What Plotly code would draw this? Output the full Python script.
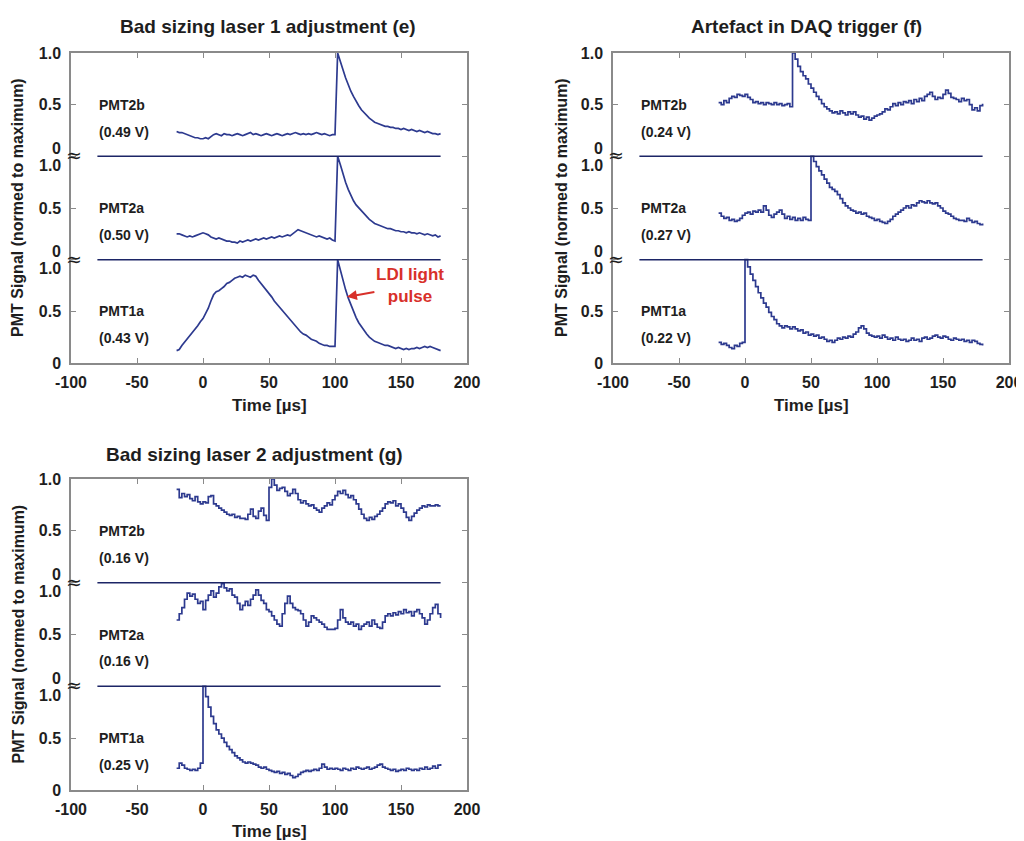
import plotly.graph_objects as go

# page body has an 8 px margin; the figure is sized to fill the rest of the window
W, H = 1016, 833
OFF = 8

# ---------------- data ----------------
TIME = list(range(-20, 181, 2))
X_TICKS = [-100, -50, 0, 50, 100, 150, 200]
CHANNELS = ["PMT1a", "PMT2a", "PMT2b"]   # bottom band -> top band
SEPARATOR_X = [-80, 180]

# Panel (e) Bad sizing laser 1 adjustment
E_PMT2b = [0.24, 0.23, 0.23, 0.22, 0.21, 0.20, 0.19, 0.18, 0.18, 0.17,
           0.17, 0.18, 0.17, 0.19, 0.21, 0.22, 0.21, 0.20, 0.22, 0.21,
           0.21, 0.20, 0.21, 0.22, 0.21, 0.20, 0.21, 0.22, 0.23, 0.21,
           0.22, 0.21, 0.20, 0.21, 0.22, 0.21, 0.20, 0.21, 0.22, 0.21,
           0.20, 0.21, 0.22, 0.21, 0.22, 0.23, 0.22, 0.21, 0.22, 0.21,
           0.22, 0.21, 0.22, 0.23, 0.22, 0.21, 0.22, 0.21, 0.20, 0.21,
           0.21, 1.00, 0.93, 0.84, 0.76, 0.69, 0.63, 0.58, 0.53, 0.49,
           0.45, 0.42, 0.39, 0.37, 0.35, 0.33, 0.32, 0.31, 0.30, 0.29,
           0.29, 0.28, 0.28, 0.27, 0.27, 0.26, 0.27, 0.26, 0.25, 0.26,
           0.25, 0.24, 0.25, 0.24, 0.23, 0.24, 0.23, 0.22, 0.22, 0.21,
           0.22]
E_PMT2a = [0.25, 0.25, 0.24, 0.23, 0.22, 0.23, 0.22, 0.23, 0.24, 0.25,
           0.26, 0.25, 0.24, 0.22, 0.21, 0.20, 0.21, 0.20, 0.19, 0.18,
           0.18, 0.17, 0.17, 0.16, 0.18, 0.17, 0.18, 0.19, 0.18, 0.19,
           0.20, 0.19, 0.20, 0.21, 0.20, 0.21, 0.22, 0.21, 0.22, 0.23,
           0.22, 0.23, 0.24, 0.23, 0.25, 0.27, 0.29, 0.28, 0.27, 0.26,
           0.25, 0.24, 0.23, 0.22, 0.23, 0.22, 0.21, 0.20, 0.21, 0.19,
           0.18, 1.00, 0.92, 0.83, 0.75, 0.68, 0.62, 0.57, 0.53, 0.50,
           0.47, 0.44, 0.41, 0.39, 0.37, 0.35, 0.34, 0.33, 0.32, 0.31,
           0.30, 0.30, 0.29, 0.28, 0.28, 0.27, 0.27, 0.26, 0.27, 0.26,
           0.26, 0.25, 0.26, 0.25, 0.24, 0.25, 0.24, 0.23, 0.24, 0.22,
           0.23]
E_PMT1a = [0.12, 0.13, 0.17, 0.20, 0.23, 0.27, 0.29, 0.33, 0.36, 0.40,
           0.43, 0.48, 0.53, 0.60, 0.66, 0.69, 0.70, 0.72, 0.74, 0.77,
           0.78, 0.80, 0.82, 0.83, 0.84, 0.83, 0.85, 0.84, 0.83, 0.85,
           0.84, 0.80, 0.77, 0.73, 0.70, 0.67, 0.64, 0.60, 0.57, 0.54,
           0.50, 0.47, 0.44, 0.41, 0.38, 0.35, 0.32, 0.30, 0.28, 0.27,
           0.25, 0.23, 0.22, 0.21, 0.19, 0.18, 0.17, 0.17, 0.16, 0.16,
           0.16, 1.00, 0.90, 0.80, 0.71, 0.63, 0.56, 0.50, 0.44, 0.39,
           0.35, 0.31, 0.28, 0.25, 0.23, 0.21, 0.20, 0.19, 0.18, 0.17,
           0.17, 0.16, 0.15, 0.14, 0.15, 0.14, 0.13, 0.14, 0.13, 0.14,
           0.14, 0.15, 0.14, 0.15, 0.16, 0.15, 0.16, 0.15, 0.14, 0.13,
           0.12]

# Panel (f) Artefact in DAQ trigger
F_PMT2b = [0.52, 0.50, 0.54, 0.52, 0.56, 0.58, 0.57, 0.60, 0.59, 0.58,
           0.60, 0.57, 0.55, 0.52, 0.53, 0.51, 0.52, 0.50, 0.52, 0.51,
           0.50, 0.52, 0.50, 0.51, 0.49, 0.50, 0.51, 0.48, 1.00, 0.94,
           0.87, 0.82, 0.78, 0.75, 0.70, 0.66, 0.62, 0.58, 0.55, 0.51,
           0.48, 0.46, 0.44, 0.42, 0.43, 0.41, 0.44, 0.42, 0.40, 0.43,
           0.41, 0.43, 0.40, 0.38, 0.39, 0.36, 0.38, 0.35, 0.37, 0.39,
           0.40, 0.41, 0.43, 0.46, 0.45, 0.48, 0.51, 0.49, 0.52, 0.50,
           0.53, 0.52, 0.54, 0.51, 0.55, 0.53, 0.56, 0.54, 0.58, 0.60,
           0.62, 0.58, 0.55, 0.57, 0.56, 0.60, 0.64, 0.61, 0.57, 0.56,
           0.55, 0.53, 0.56, 0.54, 0.55, 0.50, 0.45, 0.47, 0.44, 0.49,
           0.51]
F_PMT2a = [0.45, 0.42, 0.40, 0.41, 0.38, 0.39, 0.37, 0.38, 0.40, 0.43,
           0.45, 0.46, 0.44, 0.47, 0.46, 0.48, 0.46, 0.52, 0.48, 0.43,
           0.41, 0.44, 0.46, 0.48, 0.44, 0.40, 0.42, 0.39, 0.41, 0.38,
           0.40, 0.38, 0.41, 0.39, 0.38, 1.00, 0.95, 0.90, 0.86, 0.82,
           0.78, 0.74, 0.70, 0.68, 0.66, 0.63, 0.59, 0.55, 0.52, 0.50,
           0.48, 0.47, 0.45, 0.46, 0.44, 0.45, 0.42, 0.41, 0.40, 0.38,
           0.39, 0.37, 0.36, 0.35, 0.37, 0.39, 0.42, 0.44, 0.46, 0.48,
           0.50, 0.52, 0.50, 0.53, 0.52, 0.55, 0.57, 0.56, 0.55, 0.57,
           0.55, 0.54, 0.55, 0.52, 0.50, 0.47, 0.45, 0.44, 0.42, 0.40,
           0.39, 0.38, 0.38, 0.37, 0.40, 0.38, 0.36, 0.37, 0.35, 0.34,
           0.35]
F_PMT1a = [0.20, 0.18, 0.19, 0.17, 0.15, 0.14, 0.17, 0.16, 0.19, 0.20,
           1.00, 0.93, 0.86, 0.80, 0.74, 0.68, 0.63, 0.58, 0.54, 0.49,
           0.45, 0.42, 0.38, 0.36, 0.34, 0.36, 0.35, 0.33, 0.35, 0.33,
           0.31, 0.32, 0.29, 0.30, 0.27, 0.28, 0.26, 0.27, 0.24, 0.25,
           0.23, 0.21, 0.22, 0.20, 0.22, 0.24, 0.23, 0.25, 0.24, 0.26,
           0.25, 0.28, 0.30, 0.34, 0.36, 0.33, 0.29, 0.27, 0.26, 0.25,
           0.26, 0.24, 0.27, 0.25, 0.23, 0.24, 0.22, 0.25, 0.23, 0.22,
           0.23, 0.21, 0.22, 0.24, 0.22, 0.23, 0.21, 0.24, 0.25, 0.23,
           0.24, 0.26, 0.27, 0.25, 0.24, 0.26, 0.25, 0.23, 0.22, 0.24,
           0.23, 0.22, 0.23, 0.21, 0.22, 0.20, 0.22, 0.21, 0.19, 0.18,
           0.17]

# Panel (g) Bad sizing laser 2 adjustment
G_PMT2b = [0.90, 0.82, 0.86, 0.83, 0.85, 0.81, 0.79, 0.83, 0.78, 0.76,
           0.78, 0.77, 0.83, 0.84, 0.76, 0.74, 0.72, 0.70, 0.68, 0.66,
           0.65, 0.66, 0.63, 0.64, 0.62, 0.62, 0.61, 0.66, 0.71, 0.64,
           0.62, 0.69, 0.72, 0.65, 0.60, 0.92, 1.00, 0.94, 0.89, 0.91,
           0.92, 0.88, 0.84, 0.86, 0.90, 0.86, 0.80, 0.77, 0.79, 0.76,
           0.74, 0.75, 0.72, 0.70, 0.68, 0.72, 0.74, 0.77, 0.75, 0.80,
           0.84, 0.88, 0.86, 0.89, 0.85, 0.82, 0.84, 0.80, 0.76, 0.71,
           0.66, 0.62, 0.60, 0.63, 0.61, 0.64, 0.66, 0.69, 0.72, 0.76,
           0.78, 0.77, 0.79, 0.74, 0.76, 0.72, 0.68, 0.63, 0.60, 0.64,
           0.67, 0.70, 0.72, 0.74, 0.73, 0.75, 0.74, 0.74, 0.75, 0.74,
           0.74]
G_PMT2a = [0.64, 0.70, 0.76, 0.84, 0.90, 0.87, 0.89, 0.84, 0.80, 0.82,
           0.74, 0.83, 0.88, 0.92, 0.86, 0.90, 0.96, 0.99, 0.95, 0.92,
           0.94, 0.88, 0.86, 0.80, 0.74, 0.78, 0.82, 0.78, 0.84, 0.88,
           0.93, 0.88, 0.83, 0.80, 0.74, 0.72, 0.68, 0.64, 0.60, 0.58,
           0.70, 0.80, 0.87, 0.80, 0.76, 0.74, 0.73, 0.70, 0.64, 0.58,
           0.62, 0.68, 0.66, 0.64, 0.62, 0.60, 0.57, 0.55, 0.55, 0.55,
           0.56, 0.64, 0.74, 0.66, 0.62, 0.60, 0.62, 0.58, 0.60, 0.55,
           0.58, 0.60, 0.62, 0.58, 0.64, 0.60, 0.57, 0.56, 0.62, 0.68,
           0.70, 0.68, 0.71, 0.69, 0.72, 0.70, 0.74, 0.71, 0.72, 0.68,
           0.72, 0.74, 0.70, 0.66, 0.60, 0.64, 0.70, 0.76, 0.79, 0.70,
           0.66]
G_PMT1a = [0.21, 0.26, 0.24, 0.21, 0.20, 0.19, 0.20, 0.19, 0.21, 0.26,
           1.00, 0.90, 0.80, 0.71, 0.64, 0.58, 0.54, 0.50, 0.46, 0.42,
           0.39, 0.36, 0.33, 0.31, 0.29, 0.27, 0.26, 0.27, 0.26, 0.25,
           0.24, 0.22, 0.21, 0.22, 0.20, 0.19, 0.18, 0.17, 0.18, 0.16,
           0.17, 0.15, 0.16, 0.14, 0.12, 0.13, 0.15, 0.17, 0.18, 0.19,
           0.18, 0.19, 0.20, 0.19, 0.21, 0.25, 0.22, 0.20, 0.21, 0.20,
           0.21, 0.20, 0.19, 0.21, 0.20, 0.19, 0.21, 0.20, 0.22, 0.21,
           0.20, 0.21, 0.22, 0.20, 0.21, 0.22, 0.24, 0.25, 0.22, 0.21,
           0.20, 0.19, 0.20, 0.18, 0.19, 0.20, 0.19, 0.21, 0.20, 0.19,
           0.20, 0.19, 0.21, 0.20, 0.22, 0.20, 0.21, 0.23, 0.21, 0.24,
           0.25]

E_VOLTS = ["0.43 V", "0.50 V", "0.49 V"]
F_VOLTS = ["0.22 V", "0.27 V", "0.24 V"]
G_VOLTS = ["0.25 V", "0.16 V", "0.16 V"]

TITLES = ["Bad sizing laser 1 adjustment (e)",
          "Artefact in DAQ trigger (f)",
          "Bad sizing laser 2 adjustment (g)"]

LDI_POINT = (109, 0.64)   # point on PMT1a of panel (e) marked by the arrow

for s in (E_PMT2b, E_PMT2a, E_PMT1a, F_PMT2b, F_PMT2a, F_PMT1a,
          G_PMT2b, G_PMT2a, G_PMT1a):
    assert len(s) == len(TIME), len(s)

# ---------------- styling / layout ----------------
LINE = "#2d3a8f"
SEP = "#1c2566"
FRAME = "#8a8a8a"
TXT = "#1e1e1e"
RED = "#d8302a"
FONT = "Liberation Sans"

PANELS = [
    dict(sig=[E_PMT1a, E_PMT2a, E_PMT2b], volts=E_VOLTS, title=TITLES[0],
         box=(71, 467, 53, 363), shape="linear", title_cx=268, title_y=27,
         xt_y=405, yt_x=18),
    dict(sig=[F_PMT1a, F_PMT2a, F_PMT2b], volts=F_VOLTS, title=TITLES[1],
         box=(613, 1009, 53, 363), shape="hv", title_cx=806, title_y=27,
         xt_y=405, yt_x=562),
    dict(sig=[G_PMT1a, G_PMT2a, G_PMT2b], volts=G_VOLTS, title=TITLES[2],
         box=(71, 467, 479, 790), shape="hv", title_cx=254, title_y=455,
         xt_y=831, yt_x=18),
]


def px(xp):
    return (xp - OFF) / W


def py(yp):
    return 1 - (yp - OFF) / H


fig = go.Figure()
annotations = []
layout = {}

for i, p in enumerate(PANELS):
    n = "" if i == 0 else str(i + 1)
    xref, yref = "x" + n, "y" + n
    l, r, t, b = p["box"]

    for k, sig in enumerate(p["sig"]):
        fig.add_trace(go.Scatter(
            x=TIME, y=[v + k for v in sig], mode="lines",
            line=dict(color=LINE, width=1.7, shape=p["shape"]),
            xaxis=xref, yaxis=yref, hoverinfo="skip", showlegend=False))
    for k in (1, 2):
        fig.add_trace(go.Scatter(
            x=SEPARATOR_X, y=[k, k], mode="lines",
            line=dict(color=SEP, width=1.5),
            xaxis=xref, yaxis=yref, hoverinfo="skip", showlegend=False))

    axis_common = dict(showgrid=False, zeroline=False, showline=True,
                       linecolor=FRAME, linewidth=1.5, mirror="ticks",
                       ticks="inside", ticklen=5, tickwidth=1.2,
                       tickcolor=FRAME, automargin=False,
                       ticklabeloverflow="allow",
                       tickfont=dict(family=FONT, size=16, color=TXT,
                                     weight="bold"))
    layout["xaxis" + n] = dict(
        axis_common, domain=[px(l), px(r)], range=[-100, 200],
        tickmode="array", tickvals=X_TICKS,
        ticktext=[str(v) for v in X_TICKS], anchor=yref,
        ticklabelstandoff=4)
    layout["yaxis" + n] = dict(
        axis_common, domain=[py(b), py(t)], range=[0, 3],
        tickmode="array", tickvals=[0, 0.5, 1, 1.5, 2, 2.5, 3],
        ticktext=["0", "0.5", "", "0.5", "", "0.5", "1.0"], anchor=xref,
        ticklabelstandoff=5)

    # broken-axis labels at the band boundaries
    for k in (1, 2):
        annotations.append(dict(x=px(l - 8), y=k, xref="paper", yref=yref,
                                text="0", showarrow=False, xanchor="right",
                                yshift=8, font=dict(family=FONT, size=16,
                                                    color=TXT, weight="bold")))
        annotations.append(dict(x=px(l - 8), y=k, xref="paper", yref=yref,
                                text="1.0", showarrow=False, xanchor="right",
                                yshift=-9, font=dict(family=FONT, size=16,
                                                     color=TXT, weight="bold")))
        annotations.append(dict(x=px(l + 3), y=k, xref="paper", yref=yref,
                                text="≈", showarrow=False, xanchor="center",
                                yshift=1, font=dict(family="DejaVu Sans",
                                                    size=19, color=TXT)))
    # channel labels
    for k, ch in enumerate(CHANNELS):
        annotations.append(dict(x=SEPARATOR_X[0], y=k + 0.5, xref=xref,
                                yref=yref, text=ch, showarrow=False,
                                xanchor="left",
                                font=dict(family=FONT, size=14, color=TXT,
                                          weight="bold")))
        annotations.append(dict(x=SEPARATOR_X[0], y=k + 0.24, xref=xref,
                                yref=yref, text="(" + p["volts"][k] + ")",
                                showarrow=False, xanchor="left",
                                font=dict(family=FONT, size=14, color=TXT,
                                          weight="bold")))
    # titles
    annotations.append(dict(x=px(p["title_cx"]), y=py(p["title_y"]),
                            xref="paper", yref="paper", text=p["title"],
                            showarrow=False, xanchor="center",
                            yanchor="middle",
                            font=dict(family=FONT, size=19, color=TXT,
                                      weight="bold")))
    annotations.append(dict(x=px((l + r) / 2), y=py(p["xt_y"]),
                            xref="paper", yref="paper", text="Time [µs]",
                            showarrow=False, xanchor="center",
                            yanchor="middle",
                            font=dict(family=FONT, size=17, color=TXT,
                                      weight="bold")))
    annotations.append(dict(x=px(p["yt_x"]), y=py((t + b) / 2),
                            xref="paper", yref="paper",
                            text="PMT Signal (normed to maximum)",
                            showarrow=False, textangle=-90,
                            xanchor="center", yanchor="middle",
                            font=dict(family=FONT, size=16, color=TXT,
                                      weight="bold")))

# LDI light pulse annotation in panel (e)
annotations.append(dict(x=LDI_POINT[0], y=LDI_POINT[1], xref="x", yref="y",
                        text="LDI light<br>pulse", showarrow=True,
                        arrowhead=2, arrowsize=1, arrowwidth=2,
                        arrowcolor=RED, ax=63, ay=-11, align="center",
                        font=dict(family=FONT, size=17, color=RED,
                                  weight="bold")))

fig.update_layout(
    width=W, height=H, margin=dict(l=0, r=0, t=0, b=0, autoexpand=False),
    paper_bgcolor="white", plot_bgcolor="white", showlegend=False,
    annotations=annotations, **layout)

fig.write_html("out.html")
